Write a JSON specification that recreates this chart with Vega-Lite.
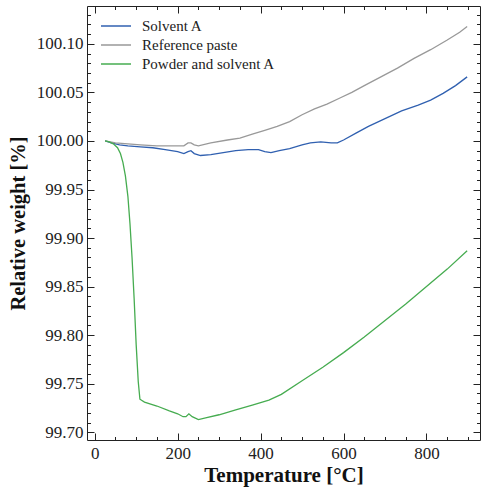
{
  "$schema": "https://vega.github.io/schema/vega-lite/v6.json",
  "width": 393,
  "height": 434,
  "autosize": "none",
  "padding": {"left": 87, "top": 6, "right": 4, "bottom": 47},
  "background": "white",
  "config": {
    "view": {"stroke": "#222", "strokeWidth": 1},
    "font": "Liberation Serif",
    "axis": {"grid": false, "domain": false, "tickColor": "#222", "tickWidth": 1, "labelColor": "#222", "titleColor": "#111", "labelFont": "Liberation Serif", "titleFont": "Liberation Serif"}
  },
  "datasets": {
    "tga": [
      {"T": 25, "w": 100.000, "s": "Solvent A"},
      {"T": 40, "w": 99.998, "s": "Solvent A"},
      {"T": 60, "w": 99.996, "s": "Solvent A"},
      {"T": 80, "w": 99.995, "s": "Solvent A"},
      {"T": 110, "w": 99.994, "s": "Solvent A"},
      {"T": 140, "w": 99.993, "s": "Solvent A"},
      {"T": 170, "w": 99.991, "s": "Solvent A"},
      {"T": 200, "w": 99.989, "s": "Solvent A"},
      {"T": 215, "w": 99.987, "s": "Solvent A"},
      {"T": 225, "w": 99.989, "s": "Solvent A"},
      {"T": 232, "w": 99.990, "s": "Solvent A"},
      {"T": 240, "w": 99.987, "s": "Solvent A"},
      {"T": 255, "w": 99.985, "s": "Solvent A"},
      {"T": 280, "w": 99.986, "s": "Solvent A"},
      {"T": 310, "w": 99.988, "s": "Solvent A"},
      {"T": 340, "w": 99.990, "s": "Solvent A"},
      {"T": 370, "w": 99.991, "s": "Solvent A"},
      {"T": 395, "w": 99.991, "s": "Solvent A"},
      {"T": 410, "w": 99.989, "s": "Solvent A"},
      {"T": 425, "w": 99.988, "s": "Solvent A"},
      {"T": 445, "w": 99.990, "s": "Solvent A"},
      {"T": 470, "w": 99.992, "s": "Solvent A"},
      {"T": 500, "w": 99.996, "s": "Solvent A"},
      {"T": 520, "w": 99.998, "s": "Solvent A"},
      {"T": 545, "w": 99.999, "s": "Solvent A"},
      {"T": 570, "w": 99.998, "s": "Solvent A"},
      {"T": 585, "w": 99.998, "s": "Solvent A"},
      {"T": 600, "w": 100.001, "s": "Solvent A"},
      {"T": 630, "w": 100.008, "s": "Solvent A"},
      {"T": 660, "w": 100.015, "s": "Solvent A"},
      {"T": 700, "w": 100.023, "s": "Solvent A"},
      {"T": 740, "w": 100.031, "s": "Solvent A"},
      {"T": 780, "w": 100.037, "s": "Solvent A"},
      {"T": 810, "w": 100.042, "s": "Solvent A"},
      {"T": 840, "w": 100.049, "s": "Solvent A"},
      {"T": 870, "w": 100.057, "s": "Solvent A"},
      {"T": 898, "w": 100.066, "s": "Solvent A"},
      {"T": 25, "w": 100.000, "s": "Reference paste"},
      {"T": 50, "w": 99.998, "s": "Reference paste"},
      {"T": 80, "w": 99.997, "s": "Reference paste"},
      {"T": 110, "w": 99.996, "s": "Reference paste"},
      {"T": 150, "w": 99.995, "s": "Reference paste"},
      {"T": 190, "w": 99.995, "s": "Reference paste"},
      {"T": 215, "w": 99.995, "s": "Reference paste"},
      {"T": 225, "w": 99.998, "s": "Reference paste"},
      {"T": 232, "w": 99.998, "s": "Reference paste"},
      {"T": 240, "w": 99.996, "s": "Reference paste"},
      {"T": 250, "w": 99.995, "s": "Reference paste"},
      {"T": 280, "w": 99.998, "s": "Reference paste"},
      {"T": 320, "w": 100.001, "s": "Reference paste"},
      {"T": 350, "w": 100.003, "s": "Reference paste"},
      {"T": 380, "w": 100.007, "s": "Reference paste"},
      {"T": 410, "w": 100.011, "s": "Reference paste"},
      {"T": 440, "w": 100.015, "s": "Reference paste"},
      {"T": 470, "w": 100.020, "s": "Reference paste"},
      {"T": 500, "w": 100.027, "s": "Reference paste"},
      {"T": 530, "w": 100.033, "s": "Reference paste"},
      {"T": 560, "w": 100.038, "s": "Reference paste"},
      {"T": 590, "w": 100.044, "s": "Reference paste"},
      {"T": 620, "w": 100.050, "s": "Reference paste"},
      {"T": 650, "w": 100.057, "s": "Reference paste"},
      {"T": 690, "w": 100.066, "s": "Reference paste"},
      {"T": 730, "w": 100.075, "s": "Reference paste"},
      {"T": 770, "w": 100.085, "s": "Reference paste"},
      {"T": 810, "w": 100.094, "s": "Reference paste"},
      {"T": 850, "w": 100.104, "s": "Reference paste"},
      {"T": 880, "w": 100.112, "s": "Reference paste"},
      {"T": 898, "w": 100.118, "s": "Reference paste"},
      {"T": 25, "w": 100.000, "s": "Powder and solvent A"},
      {"T": 35, "w": 99.999, "s": "Powder and solvent A"},
      {"T": 45, "w": 99.997, "s": "Powder and solvent A"},
      {"T": 55, "w": 99.993, "s": "Powder and solvent A"},
      {"T": 62, "w": 99.987, "s": "Powder and solvent A"},
      {"T": 68, "w": 99.978, "s": "Powder and solvent A"},
      {"T": 74, "w": 99.964, "s": "Powder and solvent A"},
      {"T": 80, "w": 99.943, "s": "Powder and solvent A"},
      {"T": 85, "w": 99.915, "s": "Powder and solvent A"},
      {"T": 90, "w": 99.880, "s": "Powder and solvent A"},
      {"T": 95, "w": 99.838, "s": "Powder and solvent A"},
      {"T": 100, "w": 99.790, "s": "Powder and solvent A"},
      {"T": 105, "w": 99.752, "s": "Powder and solvent A"},
      {"T": 109, "w": 99.734, "s": "Powder and solvent A"},
      {"T": 120, "w": 99.731, "s": "Powder and solvent A"},
      {"T": 150, "w": 99.727, "s": "Powder and solvent A"},
      {"T": 180, "w": 99.722, "s": "Powder and solvent A"},
      {"T": 200, "w": 99.719, "s": "Powder and solvent A"},
      {"T": 213, "w": 99.716, "s": "Powder and solvent A"},
      {"T": 220, "w": 99.716, "s": "Powder and solvent A"},
      {"T": 227, "w": 99.719, "s": "Powder and solvent A"},
      {"T": 235, "w": 99.716, "s": "Powder and solvent A"},
      {"T": 250, "w": 99.713, "s": "Powder and solvent A"},
      {"T": 270, "w": 99.715, "s": "Powder and solvent A"},
      {"T": 300, "w": 99.718, "s": "Powder and solvent A"},
      {"T": 340, "w": 99.723, "s": "Powder and solvent A"},
      {"T": 380, "w": 99.728, "s": "Powder and solvent A"},
      {"T": 420, "w": 99.733, "s": "Powder and solvent A"},
      {"T": 450, "w": 99.739, "s": "Powder and solvent A"},
      {"T": 500, "w": 99.753, "s": "Powder and solvent A"},
      {"T": 550, "w": 99.767, "s": "Powder and solvent A"},
      {"T": 600, "w": 99.782, "s": "Powder and solvent A"},
      {"T": 650, "w": 99.798, "s": "Powder and solvent A"},
      {"T": 700, "w": 99.815, "s": "Powder and solvent A"},
      {"T": 750, "w": 99.832, "s": "Powder and solvent A"},
      {"T": 800, "w": 99.850, "s": "Powder and solvent A"},
      {"T": 850, "w": 99.868, "s": "Powder and solvent A"},
      {"T": 898, "w": 99.887, "s": "Powder and solvent A"}
    ]
  },
  "data": {"name": "tga"},
  "resolve": {"axis": {"x": "independent", "y": "independent"}},
  "layer": [
    {
      "mark": {"type": "line", "strokeWidth": 1.3},
      "encoding": {
        "x": {
          "field": "T", "type": "quantitative",
          "scale": {"domain": [-18.6, 929], "nice": false, "zero": false},
          "axis": {"orient": "bottom", "values": [0, 200, 400, 600, 800], "tickSize": -7, "labelPadding": 12, "labelFontSize": 17, "labelFlush": false, "title": "Temperature [°C]", "titleFontSize": 21, "titleFontWeight": "bold", "titlePadding": 3}
        },
        "y": {
          "field": "w", "type": "quantitative",
          "scale": {"domain": [99.692, 100.139], "nice": false, "zero": false},
          "axis": {"orient": "left", "values": [99.70, 99.75, 99.80, 99.85, 99.90, 99.95, 100.00, 100.05, 100.10], "format": ".2f", "tickSize": -7, "labelPadding": 11, "labelFontSize": 17, "labelFlush": false, "title": "Relative weight [%]", "titleFontSize": 20.5, "titleFontWeight": "bold", "titlePadding": 8}
        },
        "color": {
          "field": "s", "type": "nominal",
          "scale": {"domain": ["Solvent A", "Reference paste", "Powder and solvent A"], "range": ["#3060b0", "#999999", "#46ac50"]},
          "legend": {"title": null, "orient": "none", "legendX": 20, "legendY": 11, "symbolType": "M-1.875,0H1.875", "symbolSize": 256, "symbolStrokeWidth": 1.5, "symbolFillColor": "transparent", "labelFontSize": 15, "labelFont": "Liberation Serif", "labelColor": "#222", "labelOffset": 17, "rowPadding": 2, "padding": 0}
        }
      }
    },
    {
      "mark": {"type": "line", "strokeOpacity": 0},
      "encoding": {
        "x": {"field": "T", "type": "quantitative", "axis": {"orient": "bottom", "values": [0, 50, 100, 150, 250, 300, 350, 450, 500, 550, 650, 700, 750, 850, 900], "tickSize": -3.5, "labels": false, "title": null}},
        "y": {"field": "w", "type": "quantitative", "axis": {"orient": "left", "values": [99.70, 99.71, 99.72, 99.73, 99.74, 99.76, 99.77, 99.78, 99.79, 99.81, 99.82, 99.83, 99.84, 99.86, 99.87, 99.88, 99.89, 99.91, 99.92, 99.93, 99.94, 99.96, 99.97, 99.98, 99.99, 100.01, 100.02, 100.03, 100.04, 100.06, 100.07, 100.08, 100.09, 100.11, 100.12, 100.13], "tickSize": -3.5, "labels": false, "title": null}}
      }
    },
    {
      "mark": {"type": "line", "strokeOpacity": 0},
      "encoding": {
        "x": {"field": "T", "type": "quantitative", "axis": {"orient": "top", "values": [0, 200, 400, 600, 800], "tickSize": -7, "labels": false, "title": null}},
        "y": {"field": "w", "type": "quantitative", "axis": {"orient": "right", "values": [99.70, 99.75, 99.80, 99.85, 99.90, 99.95, 100.00, 100.05, 100.10], "tickSize": -7, "labels": false, "title": null}}
      }
    },
    {
      "mark": {"type": "line", "strokeOpacity": 0},
      "encoding": {
        "x": {"field": "T", "type": "quantitative", "axis": {"orient": "top", "values": [0, 50, 100, 150, 250, 300, 350, 450, 500, 550, 650, 700, 750, 850, 900], "tickSize": -3.5, "labels": false, "title": null}},
        "y": {"field": "w", "type": "quantitative", "axis": {"orient": "right", "values": [99.70, 99.71, 99.72, 99.73, 99.74, 99.76, 99.77, 99.78, 99.79, 99.81, 99.82, 99.83, 99.84, 99.86, 99.87, 99.88, 99.89, 99.91, 99.92, 99.93, 99.94, 99.96, 99.97, 99.98, 99.99, 100.01, 100.02, 100.03, 100.04, 100.06, 100.07, 100.08, 100.09, 100.11, 100.12, 100.13], "tickSize": -3.5, "labels": false, "title": null}}
      }
    }
  ]
}
